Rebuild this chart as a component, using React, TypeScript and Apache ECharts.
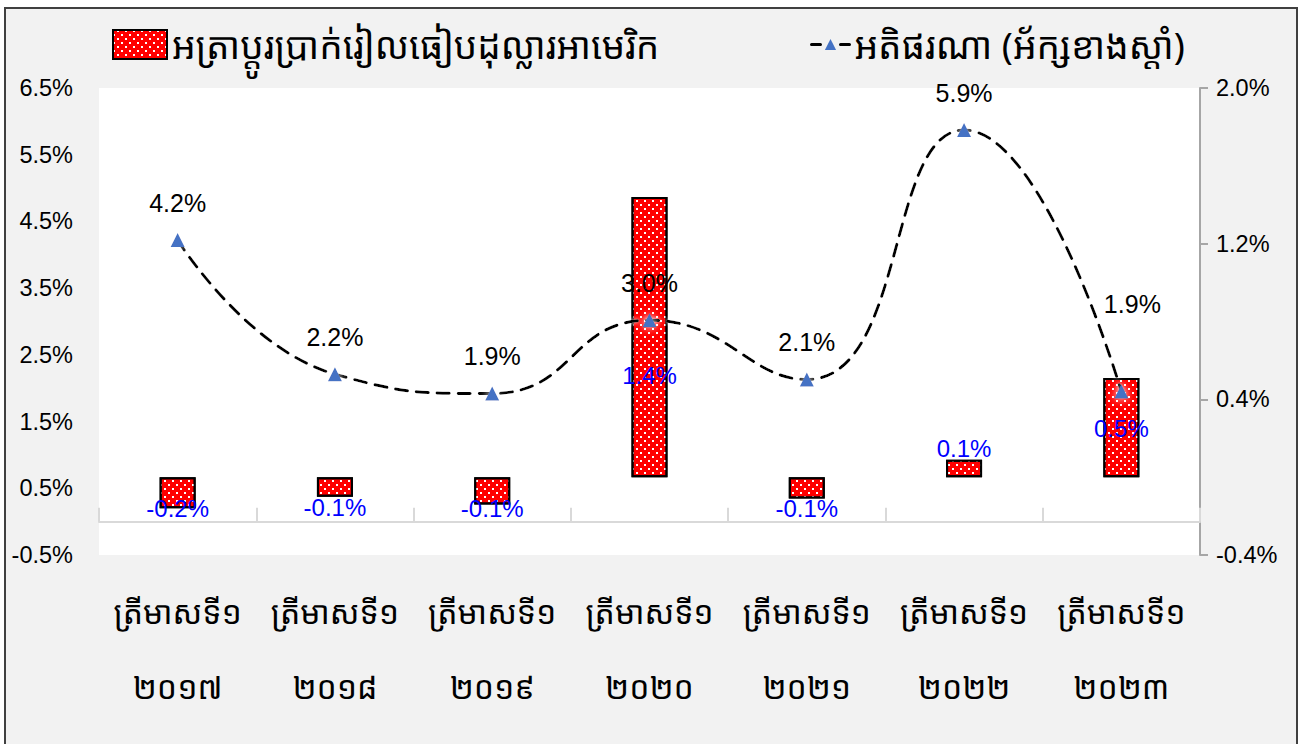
import React, { useEffect, useRef } from "react";
import * as echarts from "echarts";

const quarterLabel = "ត្រីមាសទី១";
const years = ["២០១៧", "២០១៨", "២០១៩", "២០២០", "២០២១", "២០២២", "២០២៣"];
const categories = years.map((y) => `${quarterLabel}\n${y}`);

const exchangeRate = [-0.16, -0.1, -0.14, 1.44, -0.11, 0.09, 0.51];
const inflation = [4.22, 2.21, 1.92, 3.02, 2.13, 5.87, 1.95];

const leftTicks = [-0.5, 0.5, 1.5, 2.5, 3.5, 4.5, 5.5, 6.5];
const rightTicks = [-0.4, 0.4, 1.2, 2.0];

const barName = "អត្រាប្តូរប្រាក់រៀលធៀបដុល្លារអាមេរិក";
const lineName = "អតិផរណា (អ័ក្សខាងស្តាំ)";

const NUM_FONT = "'Liberation Sans', Arial, sans-serif";
const KH_FONT = "'Khmer OS Battambang', 'Khmer OS', 'Noto Sans Khmer', 'Noto Serif Khmer', 'Noto Sans', sans-serif";

// label nudges (layout only), relative to the bar's lower edge
const barLabelDy = [0, 11, 4, -102, 10, -29, -49];
const lineLabelOffset: [number, number][] = [
  [0, 0], [0, 0], [0, 0], [0, 0], [0, 0], [0, 0], [11, -50],
];

const pct = (v: number) => v.toFixed(1) + "%";

const barDecal = {
  symbol: "rect",
  color: "#ffffff",
  symbolSize: 1,
  rotation: 0,
  dashArrayX: [[2, 6], [0, 4, 2, 2]],
  dashArrayY: [2, 2],
};

export default function App() {
  const ref = useRef<HTMLDivElement>(null);
  useEffect(() => {
    if (!ref.current) return;
    const chart = echarts.init(ref.current, null, { renderer: "svg" });
    const option: any = {
      animation: false,
      backgroundColor: "#ffffff",
      graphic: [
        {
          type: "rect",
          z: -100,
          silent: true,
          shape: { x: 5, y: 8, width: 1292, height: 745 },
          style: { fill: "#f2f2f2", stroke: "#404040", lineWidth: 2 },
        },
      ],
      legend: [
        {
          data: [
            {
              name: barName,
              icon: "rect",
              itemStyle: { color: "#ff0000", borderColor: "#000000", borderWidth: 2, decal: barDecal },
            },
          ],
          left: 112,
          top: 26,
          padding: 0,
          itemWidth: 54,
          itemHeight: 29,
          itemGap: 0,
          textStyle: { fontFamily: KH_FONT, fontSize: 37, color: "#000" },
        },
        {
          data: [lineName],
          left: 810,
          top: 26,
          padding: 0,
          itemWidth: 38,
          itemHeight: 14,
          lineStyle: { type: [9, 20], width: 3, color: "#000" },
          textStyle: { fontFamily: KH_FONT, fontSize: 37, color: "#000" },
        },
      ],
      grid: {
        left: 99,
        right: 102,
        top: 88,
        bottom: 189,
        show: true,
        backgroundColor: "#ffffff",
        borderWidth: 0,
        outerBoundsMode: "none",
      },
      xAxis: {
        type: "category",
        data: categories,
        axisLine: { onZero: true, onZeroAxisIndex: 0, lineStyle: { color: "#d9d9d9", width: 2 } },
        axisTick: { show: true, inside: true, length: 14, lineStyle: { color: "#d9d9d9", width: 2 } },
        axisLabel: {
          margin: 19,
          fontFamily: KH_FONT,
          fontSize: 32,
          lineHeight: 75,
          color: "#000",
          interval: 0,
        },
      },
      yAxis: [
        {
          type: "value",
          min: -0.5,
          max: 6.5,
          axisLine: { show: false },
          axisTick: { show: false },
          splitLine: { show: false },
          axisLabel: {
            customValues: leftTicks,
            formatter: (v: number) => pct(v),
            margin: 26,
            fontFamily: NUM_FONT,
            fontSize: 23.5,
            color: "#000",
          },
        },
        {
          type: "value",
          min: -0.4,
          max: 2.0,
          position: "right",
          axisLine: { show: true, lineStyle: { color: "#a6a6a6", width: 2 } },
          axisTick: { show: true, customValues: rightTicks, length: 8, lineStyle: { color: "#a6a6a6", width: 2 } },
          splitLine: { show: false },
          axisLabel: {
            customValues: rightTicks,
            formatter: (v: number) => pct(v),
            margin: 16,
            fontFamily: NUM_FONT,
            fontSize: 23.5,
            color: "#000",
          },
        },
      ],
      series: [
        {
          name: barName,
          type: "bar",
          yAxisIndex: 1,
          barWidth: 36,
          itemStyle: {
            color: "#ff0000",
            borderColor: "#000000",
            borderWidth: 2,
            decal: barDecal,
          },
          data: exchangeRate.map((v, i) => ({
            value: v,
            label: {
              show: true,
              position: ["50%", "100%"],
              offset: [0, barLabelDy[i]],
              align: "center",
              verticalAlign: "middle",
              formatter: () => pct(v),
              fontFamily: NUM_FONT,
              fontSize: 24,
              color: "#0000ff",
            },
          })),
          z: 2,
        },
        {
          name: lineName,
          type: "line",
          yAxisIndex: 0,
          smooth: 0.5,
          symbol: "triangle",
          symbolSize: 14,
          lineStyle: {
            color: "#000000",
            width: 3,
            type: [12, 9],
            cap: "round",
            shadowColor: "rgba(255,255,255,0.9)",
            shadowBlur: 4,
          },
          itemStyle: {
            color: "#4472c4",
            shadowColor: "rgba(255,255,255,1)",
            shadowBlur: 8,
          },
          data: inflation.map((v, i) => ({
            value: v,
            label: {
              show: true,
              position: "top",
              distance: 18,
              offset: lineLabelOffset[i],
              formatter: () => pct(v),
              fontFamily: NUM_FONT,
              fontSize: 25,
              color: "#000",
            },
          })),
          z: 3,
        },
      ],
    };
    chart.setOption(option);
    return () => chart.dispose();
  }, []);
  return (
    <div
      ref={ref}
      style={{ position: "fixed", left: 0, top: 0, width: 1302, height: 744 }}
    />
  );
}
